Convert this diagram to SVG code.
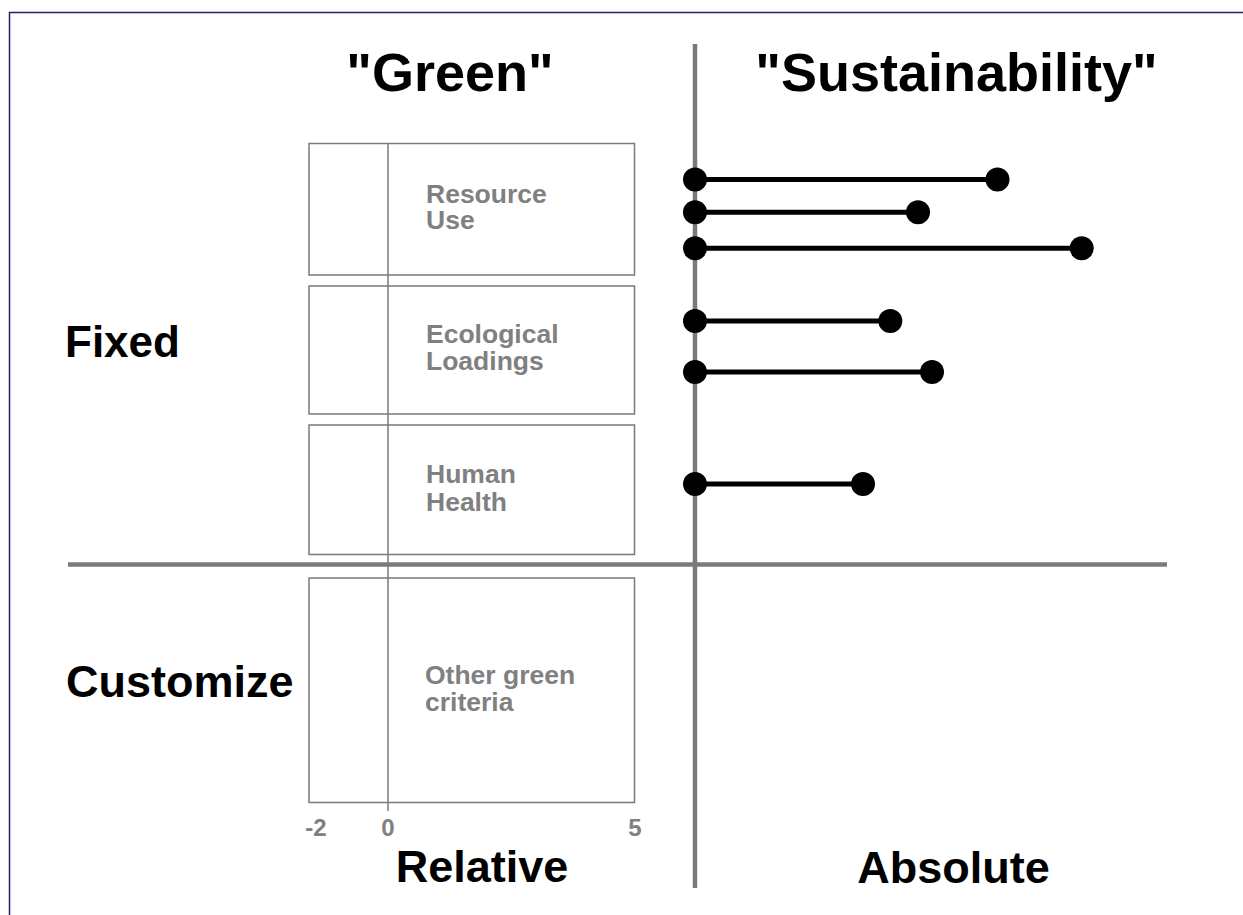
<svg xmlns="http://www.w3.org/2000/svg" width="1243" height="915" viewBox="0 0 1243 915">
<style>
.box{fill:#fff;stroke:#7a7a7a;stroke-width:1.5}
.lbl{font-family:"Liberation Sans",Arial,sans-serif;font-weight:bold;font-size:26.5px;fill:#808080}
.tick{font-family:"Liberation Sans",Arial,sans-serif;font-weight:bold;font-size:24px;fill:#808080;text-anchor:middle}
.head{font-family:"Liberation Sans",Arial,sans-serif;font-weight:bold;fill:#000;text-anchor:middle}
.left{font-family:"Liberation Sans",Arial,sans-serif;font-weight:bold;fill:#000}
.axis{stroke:#7a7a7a;stroke-width:4.5;fill:none}
.bar{stroke:#000;stroke-width:5}
.dot{fill:#000}
</style>
<rect width="1243" height="915" fill="#fff"/>
<path d="M9.5 920 V12.5 H1250" fill="none" stroke="#23236b" stroke-width="1.5"/>

<g id="headings">
<text class="head" x="450" y="91" font-size="54">"Green"</text>
<text class="head" x="956.5" y="91" font-size="54">"Sustainability"</text>
<text class="left" x="65" y="357" font-size="44">Fixed</text>
<text class="left" x="66" y="697" font-size="45">Customize</text>
<text class="head" x="482" y="882" font-size="45">Relative</text>
<text class="head" x="953.5" y="883" font-size="45">Absolute</text>
</g>

<g id="box-resource">
<rect class="box" x="309" y="143.5" width="325.5" height="131.5"/>
<text class="lbl" x="426" y="202.7">Resource</text>
<text class="lbl" x="426" y="229.3">Use</text>
</g>
<g id="box-ecological">
<rect class="box" x="309" y="286" width="325.5" height="128"/>
<text class="lbl" x="426" y="342.7">Ecological</text>
<text class="lbl" x="426" y="370">Loadings</text>
</g>
<g id="box-human">
<rect class="box" x="309" y="425" width="325.5" height="129.5"/>
<text class="lbl" x="426" y="483.3">Human</text>
<text class="lbl" x="426" y="510.7">Health</text>
</g>
<g id="box-other">
<rect class="box" x="309" y="578" width="325.5" height="224.5"/>
<text class="lbl" x="425" y="684">Other green</text>
<text class="lbl" x="425" y="710.7">criteria</text>
</g>

<g id="zero-axis">
<line x1="388" y1="143.5" x2="388" y2="811" stroke="#7a7a7a" stroke-width="1.5"/>
<text class="tick" x="316" y="836">-2</text>
<text class="tick" x="388" y="836">0</text>
<text class="tick" x="635" y="836">5</text>
</g>

<g id="axes">
<line class="axis" x1="68" y1="564.5" x2="1167" y2="564.5"/>
<line class="axis" x1="695" y1="44" x2="695" y2="888"/>
</g>

<g id="connectors">
<line class="bar" x1="695" y1="179.5" x2="997.5" y2="179.5"/>
<circle class="dot" cx="695" cy="179.5" r="12"/><circle class="dot" cx="997.5" cy="179.5" r="12"/>
<line class="bar" x1="695" y1="212.3" x2="918" y2="212.3"/>
<circle class="dot" cx="695" cy="212.3" r="12"/><circle class="dot" cx="918" cy="212.3" r="12"/>
<line class="bar" x1="695" y1="248.3" x2="1081.7" y2="248.3"/>
<circle class="dot" cx="695" cy="248.3" r="12"/><circle class="dot" cx="1081.7" cy="248.3" r="12"/>
<line class="bar" x1="695" y1="321" x2="890.3" y2="321"/>
<circle class="dot" cx="695" cy="321" r="12"/><circle class="dot" cx="890.3" cy="321" r="12"/>
<line class="bar" x1="695" y1="372" x2="932" y2="372"/>
<circle class="dot" cx="695" cy="372" r="12"/><circle class="dot" cx="932" cy="372" r="12"/>
<line class="bar" x1="695" y1="484" x2="863" y2="484"/>
<circle class="dot" cx="695" cy="484" r="12"/><circle class="dot" cx="863" cy="484" r="12"/>
</g>
</svg>
